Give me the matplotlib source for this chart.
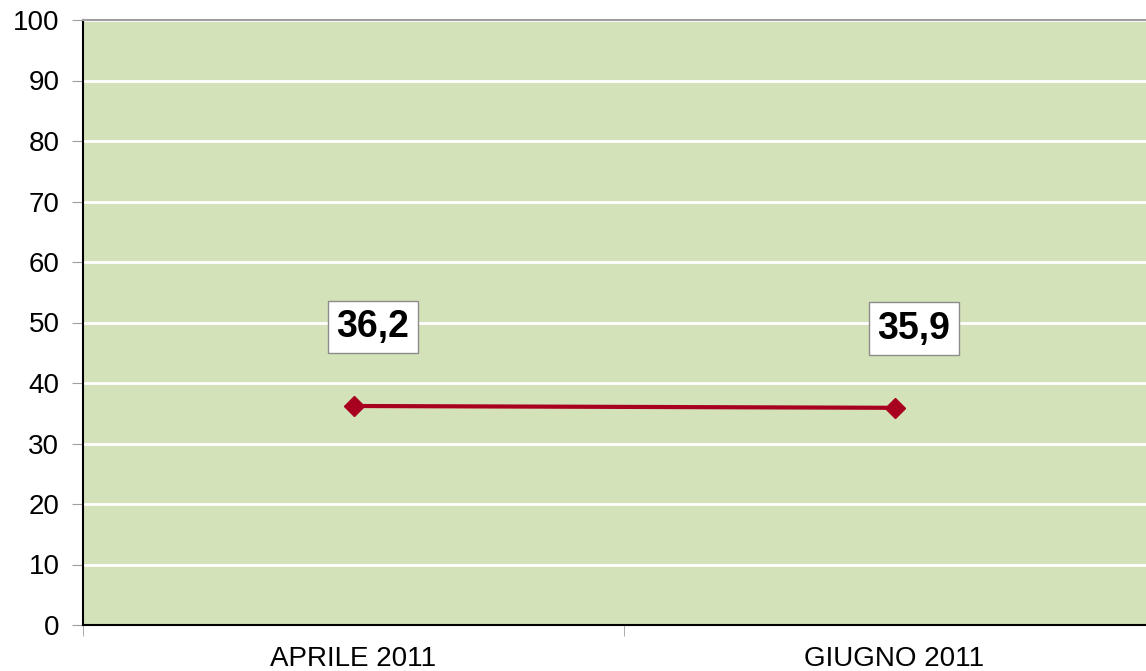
import matplotlib
matplotlib.use("Agg")
import matplotlib.pyplot as plt
from matplotlib.ticker import FixedLocator

plt.rcParams['font.family'] = ['Liberation Sans', 'DejaVu Sans']

categories = ["APRILE 2011", "GIUGNO 2011"]
values = [36.2, 35.9]
value_labels = ["36,2", "35,9"]
yticks = list(range(0, 101, 10))

W, H = 1146, 671
fig = plt.figure(figsize=(W / 100, H / 100), dpi=100)
left_px, right_px, top_px, bottom_px = 83, 1165, 20, 625
ax = fig.add_axes([left_px / W, (H - bottom_px) / H,
                   (right_px - left_px) / W, (bottom_px - top_px) / H])
ax.set_facecolor('#D4E2BA')

x = list(range(len(categories)))
ax.plot(x, values, color='#A8001F', lw=3, marker='D', markersize=10,
        markeredgecolor='#A8001F', zorder=3, clip_on=False)

for xi, v, lab in zip(x, values, value_labels):
    ax.annotate(lab, (xi, v), xytext=(14, 57), textcoords='offset points',
                ha='center', va='center', fontsize=27, fontweight='bold',
                bbox=dict(boxstyle='square,pad=0.22', fc='white', ec='#8C8C8C', lw=1),
                zorder=4)

ax.set_xlim(-0.5, len(categories) - 0.5)
ax.set_ylim(0, 100)
ax.set_yticks(yticks)
ax.set_yticklabels([str(t) for t in yticks])
ax.yaxis.grid(True, color='white', lw=2)
ax.set_axisbelow(True)

ax.set_xticks(x)
ax.set_xticklabels(categories)
ax.xaxis.set_minor_locator(FixedLocator([i - 0.5 for i in range(len(categories) + 1)]))
ax.tick_params(axis='x', which='major', length=0, pad=15, labelsize=20)
ax.tick_params(axis='x', which='minor', length=8, color='#A0A0A0', direction='out')
ax.tick_params(axis='y', length=8, color='#A0A0A0', direction='out', pad=9, labelsize=20)

for s in ['left', 'bottom']:
    ax.spines[s].set_color('black')
    ax.spines[s].set_linewidth(1.5)
ax.spines['top'].set_color('#A0A0A0')
ax.spines['top'].set_linewidth(1.5)
ax.spines['right'].set_visible(False)

fig.savefig('out.png', dpi=100, facecolor='white')
